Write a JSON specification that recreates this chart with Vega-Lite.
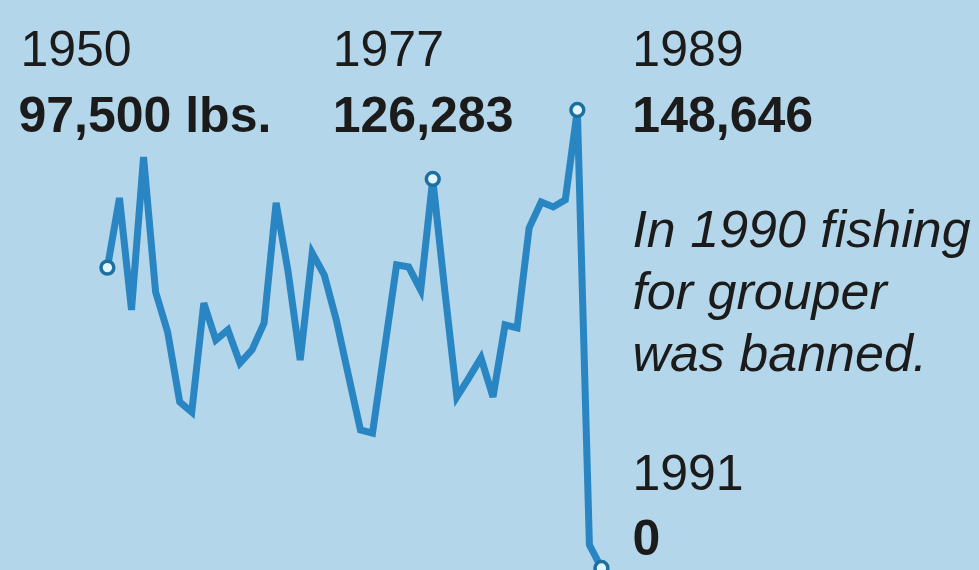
{
  "$schema": "https://vega.github.io/schema/vega-lite/v6.json",
  "width": 979,
  "height": 570,
  "autosize": {"type": "none"},
  "padding": 0,
  "background": "#b4d6ea",
  "config": {"view": {"stroke": null}, "text": {"font": "Liberation Sans", "fontSize": 50, "color": "#1b1b1b", "align": "left", "baseline": "alphabetic"}},
  "data": {"values": [
    {"year": 1950, "lbs": 97500},
    {"year": 1951, "lbs": 120100},
    {"year": 1952, "lbs": 83750},
    {"year": 1953, "lbs": 133400},
    {"year": 1954, "lbs": 89600},
    {"year": 1955, "lbs": 76600},
    {"year": 1956, "lbs": 53900},
    {"year": 1957, "lbs": 50600},
    {"year": 1958, "lbs": 86000},
    {"year": 1959, "lbs": 74000},
    {"year": 1960, "lbs": 77300},
    {"year": 1961, "lbs": 66500},
    {"year": 1962, "lbs": 70800},
    {"year": 1963, "lbs": 79500},
    {"year": 1964, "lbs": 118500},
    {"year": 1965, "lbs": 96100},
    {"year": 1966, "lbs": 67500},
    {"year": 1967, "lbs": 102200},
    {"year": 1968, "lbs": 95100},
    {"year": 1969, "lbs": 80500},
    {"year": 1970, "lbs": 62600},
    {"year": 1971, "lbs": 44800},
    {"year": 1972, "lbs": 43800},
    {"year": 1973, "lbs": 71100},
    {"year": 1974, "lbs": 98400},
    {"year": 1975, "lbs": 97700},
    {"year": 1976, "lbs": 90200},
    {"year": 1977, "lbs": 126283},
    {"year": 1978, "lbs": 90000},
    {"year": 1979, "lbs": 55500},
    {"year": 1980, "lbs": 61700},
    {"year": 1981, "lbs": 68200},
    {"year": 1982, "lbs": 55500},
    {"year": 1983, "lbs": 78900},
    {"year": 1984, "lbs": 77900},
    {"year": 1985, "lbs": 110400},
    {"year": 1986, "lbs": 118800},
    {"year": 1987, "lbs": 117200},
    {"year": 1988, "lbs": 119500},
    {"year": 1989, "lbs": 148646},
    {"year": 1990, "lbs": 7500},
    {"year": 1991, "lbs": 0}
  ]},
  "encoding": {
    "x": {"field": "year", "type": "quantitative", "axis": null, "scale": {"domain": [1941.087, 2022.332], "nice": false, "zero": false}},
    "y": {"field": "lbs", "type": "quantitative", "axis": null, "scale": {"domain": [-649, 184356], "nice": false, "zero": false}}
  },
  "layer": [
    {"mark": {"type": "line", "color": "#2986c2", "strokeWidth": 7, "clip": false}},
    {"transform": [{"filter": {"field": "year", "oneOf": [1950, 1977, 1989, 1991]}}],
     "mark": {"type": "point", "filled": true, "fill": "#e2f4fb", "stroke": "#1d6f9f", "strokeWidth": 3.5, "size": 165, "opacity": 1}},
    {"transform": [{"filter": "datum.year == 1950"}],
     "mark": {"type": "text", "dx": -87, "dy": -202},
     "encoding": {"text": {"field": "year", "type": "nominal"}}},
    {"transform": [{"filter": "datum.year == 1950"}],
     "mark": {"type": "text", "dx": -89, "dy": -136, "fontWeight": "bold", "text": "97,500 lbs."}},
    {"transform": [{"filter": "datum.year == 1977"}],
     "mark": {"type": "text", "dx": -100, "dy": -113},
     "encoding": {"text": {"field": "year", "type": "nominal"}}},
    {"transform": [{"filter": "datum.year == 1977"}],
     "mark": {"type": "text", "dx": -100, "dy": -47, "fontWeight": "bold"},
     "encoding": {"text": {"field": "lbs", "type": "quantitative", "format": ","}}},
    {"transform": [{"filter": "datum.year == 1989"}],
     "mark": {"type": "text", "dx": 55, "dy": -44},
     "encoding": {"text": {"field": "year", "type": "nominal"}}},
    {"transform": [{"filter": "datum.year == 1989"}],
     "mark": {"type": "text", "dx": 55, "dy": 22, "fontWeight": "bold"},
     "encoding": {"text": {"field": "lbs", "type": "quantitative", "format": ","}}},
    {"transform": [{"filter": "datum.year == 1990"}],
     "mark": {"type": "text", "dx": 43, "dy": -298, "fontSize": 52, "fontStyle": "italic", "lineHeight": 62, "text": ["In 1990 fishing", "for grouper", "was banned."]}},
    {"transform": [{"filter": "datum.year == 1991"}],
     "mark": {"type": "text", "dx": 31, "dy": -78},
     "encoding": {"text": {"field": "year", "type": "nominal"}}},
    {"transform": [{"filter": "datum.year == 1991"}],
     "mark": {"type": "text", "dx": 31, "dy": -13, "fontWeight": "bold"},
     "encoding": {"text": {"field": "lbs", "type": "quantitative", "format": ","}}}
  ]
}
